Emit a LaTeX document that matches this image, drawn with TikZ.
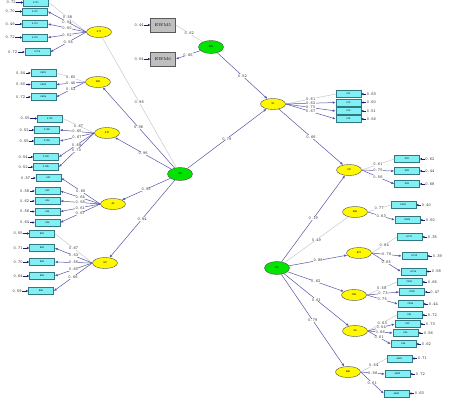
\documentclass[tikz,border=0pt]{standalone}
\usepackage[dvipsnames]{xcolor}
\usepackage{tikz}
\usetikzlibrary{positioning,arrows.meta,shapes.geometric}
\definecolor{obsCyan}{RGB}{128,240,245}
\definecolor{obsLine}{RGB}{50,120,130}
\definecolor{latYellow}{RGB}{255,248,0}
\definecolor{latGreen}{RGB}{0,228,0}
\definecolor{pathBlue}{RGB}{85,85,165}
\definecolor{fixGrey}{RGB}{200,200,205}
\definecolor{errNavy}{RGB}{25,25,110}
\newcommand{\tinyTT}{\fontsize{4.3}{5}\selectfont\ttfamily}

\begin{document}
\begin{tikzpicture}[x=1pt,y=-1pt,
			obsVar/.style={shape=rectangle, draw=obsLine, fill=obsCyan, line width=0.5pt, minimum width=25pt, minimum height=7pt, inner sep=0pt, font=\fontsize{2.6}{3}\selectfont\ttfamily},
			refVar/.style={shape=rectangle, draw=black!65, fill=black!25, line width=0.5pt, minimum width=25pt, minimum height=14pt, inner sep=0pt, font=\fontsize{4}{5}\selectfont},
			latY/.style={shape=ellipse, draw=black!70, fill=latYellow, line width=0.4pt, minimum width=25pt, minimum height=11pt, inner sep=0pt, font=\fontsize{2.8}{3}\selectfont\ttfamily},
			latG/.style={latY, fill=latGreen, minimum height=13pt},
			errLbl/.style={inner sep=0.3pt, font=\tinyTT, text=black!80},
			estLbl/.style={pos=0.5, fill=white, inner sep=0.3pt, font=\tinyTT, text=black!80},
			freePath/.style={draw=pathBlue, line width=0.5pt, -{Latex[length=3pt,width=2.4pt]}},
			fixPath/.style={draw=fixGrey, line width=0.5pt},
			errPath/.style={draw=errNavy, line width=0.9pt, -{Latex[length=2.2pt,width=2.6pt]}}]
\useasboundingbox (0,0) rectangle (474,402);

% second order factors and EDU
\node [latG] (kz) at (180,174) {KZ};
\node [latG] (edu) at (211,47) {EDU};
\node [latG] (ht) at (277,268) {HT};

% first order factors, left
\node [latY] (kjt) at (99,32) {KJT};
\node [latY] (kbu) at (98,82) {KBU};
\node [latY] (kjm) at (107,133) {KJM};
\node [latY] (af) at (113,204) {AF};
\node [latY] (em) at (105,263) {EM};

% factors, right
\node [latY] (si) at (273,104) {SI};
\node [latY] (dm) at (349,170) {DM};
\node [latY] (ese) at (355,212) {ESE};
\node [latY] (hci) at (359,253) {HCI};
\node [latY] (csn) at (354,295) {CSN};
\node [latY] (ss) at (355,331) {SS};
\node [latY] (aho) at (348,372) {AHO};

% KJT
\node [obsVar] (kjtA) at (36,2.5) {KJT1};
\node [obsVar] (kjtB) at (35,11.5) {KJT2};
\node [obsVar] (kjtC) at (35,24) {KJT3};
\node [obsVar] (kjtD) at (35,37.5) {KJT4};
\node [obsVar] (kjtE) at (37.5,52) {KJT5};
\node [errLbl, left=7pt of kjtA] (eKjtA) {0.72};
\node [errLbl, left=7pt of kjtB] (eKjtB) {0.70};
\node [errLbl, left=7pt of kjtC] (eKjtC) {0.49};
\node [errLbl, left=7pt of kjtD] (eKjtD) {0.72};
\node [errLbl, left=7pt of kjtE] (eKjtE) {0.72};
\draw [fixPath] (kjt.west) -- node[estLbl]{0.58} (kjtA.east);
\draw [freePath] (kjt.west) -- node[estLbl]{0.54} (kjtB.east);
\draw [freePath] (kjt.west) -- node[estLbl]{0.50} (kjtC.east);
\draw [freePath] (kjt.west) -- node[estLbl]{0.52} (kjtD.east);
\draw [freePath] (kjt.west) -- node[estLbl]{0.55} (kjtE.east);

% KBU
\node [obsVar] (kbuA) at (43.5,73) {KBU1};
\node [obsVar] (kbuB) at (43.5,84.5) {KBU2};
\node [obsVar] (kbuC) at (43.5,97) {KBU3};
\node [errLbl, left=5pt of kbuA] (eKbuA) {0.54};
\node [errLbl, left=5pt of kbuB] (eKbuB) {0.50};
\node [errLbl, left=5pt of kbuC] (eKbuC) {0.72};
\draw [fixPath] (kbu.west) -- node[estLbl]{0.60} (kbuA.east);
\draw [freePath] (kbu.west) -- node[estLbl]{0.45} (kbuB.east);
\draw [freePath] (kbu.west) -- node[estLbl]{0.52} (kbuC.east);

% KJM
\node [obsVar] (kjmA) at (50,118.5) {KJM1};
\node [obsVar] (kjmB) at (47,130) {KJM2};
\node [obsVar] (kjmC) at (47,141) {KJM3};
\node [obsVar] (kjmD) at (46,157) {KJM4};
\node [obsVar] (kjmE) at (46,167) {KJM5};
\node [errLbl, left=7pt of kjmA] (eKjmA) {0.55};
\node [errLbl, left=5pt of kjmB] (eKjmB) {0.52};
\node [errLbl, left=5pt of kjmC] (eKjmC) {0.55};
\node [errLbl, left=5pt of kjmD] (eKjmD) {0.54};
\node [errLbl, left=5pt of kjmE] (eKjmE) {0.52};
\draw [fixPath] (kjm.west) -- node[estLbl]{0.67} (kjmA.east);
\draw [freePath] (kjm.west) -- node[estLbl]{0.65} (kjmB.east);
\draw [freePath] (kjm.west) -- node[estLbl]{0.67} (kjmC.east);
\draw [freePath] (kjm.west) -- node[estLbl]{0.69} (kjmD.east);
\draw [freePath] (kjm.west) -- node[estLbl]{0.70} (kjmE.east);

% AF
\node [obsVar] (afA) at (48.5,178) {AF1};
\node [obsVar] (afB) at (47.5,191) {AF2};
\node [obsVar] (afC) at (47.5,201) {AF3};
\node [obsVar] (afD) at (47.5,211.5) {AF4};
\node [obsVar] (afE) at (47.5,222.5) {AF5};
\node [errLbl, left=5pt of afA] (eAfA) {0.57};
\node [errLbl, left=5pt of afB] (eAfB) {0.58};
\node [errLbl, left=5pt of afC] (eAfC) {0.62};
\node [errLbl, left=5pt of afD] (eAfD) {0.56};
\node [errLbl, left=5pt of afE] (eAfE) {0.64};
\draw [freePath] (af.west) -- node[estLbl]{0.65} (afA.east);
\draw [freePath] (af.west) -- node[estLbl]{0.64} (afB.east);
\draw [freePath] (af.west) -- node[estLbl]{0.58} (afC.east);
\draw [freePath] (af.west) -- node[estLbl]{0.61} (afD.east);
\draw [freePath] (af.west) -- node[estLbl]{0.67} (afE.east);

% EM
\node [obsVar] (emA) at (42,233.5) {EM1};
\node [obsVar] (emB) at (42,248) {EM2};
\node [obsVar] (emC) at (42,262) {EM3};
\node [obsVar] (emD) at (42,276) {EM4};
\node [obsVar] (emE) at (41,291) {EM5};
\node [errLbl, left=6pt of emA] (eEmA) {0.55};
\node [errLbl, left=6pt of emB] (eEmB) {0.71};
\node [errLbl, left=6pt of emC] (eEmC) {0.70};
\node [errLbl, left=6pt of emD] (eEmD) {0.64};
\node [errLbl, left=6pt of emE] (eEmE) {0.59};
\draw [fixPath] (em.west) -- node[estLbl]{0.67} (emA.east);
\draw [freePath] (em.west) -- node[estLbl]{0.53} (emB.east);
\draw [freePath] (em.west) -- node[estLbl]{0.55} (emC.east);
\draw [freePath] (em.west) -- node[estLbl]{0.60} (emD.east);
\draw [freePath] (em.west) -- node[estLbl]{0.66} (emE.east);

% EDU
\node [refVar] (ewmA) at (163,25) {EWM5};
\node [refVar] (ewmB) at (163,59) {EWM6};
\node [errLbl, left=6pt of ewmA] (eEwmA) {0.44};
\node [errLbl, left=6pt of ewmB] (eEwmB) {0.54};
\draw [fixPath] (edu) -- node[estLbl]{0.62} (ewmA.east);
\draw [freePath] (edu) -- node[estLbl]{0.65} (ewmB.east);

% SI
\node [obsVar] (siA) at (348.5,94) {SI1};
\node [obsVar] (siB) at (348.5,102.5) {SI2};
\node [obsVar] (siC) at (348.5,111) {SI3};
\node [obsVar] (siD) at (348.5,119) {SI4};
\node [errLbl, right=5pt of siA] (eSiA) {0.63};
\node [errLbl, right=5pt of siB] (eSiB) {0.60};
\node [errLbl, right=5pt of siC] (eSiC) {0.51};
\node [errLbl, right=5pt of siD] (eSiD) {0.56};
\draw [fixPath] (si.east) -- node[estLbl]{0.61} (siA.west);
\draw [freePath] (si.east) -- node[estLbl]{0.62} (siB.west);
\draw [freePath] (si.east) -- node[estLbl]{0.70} (siC.west);
\draw [freePath] (si.east) -- node[estLbl]{0.67} (siD.west);

% DM
\node [obsVar] (dmA) at (407,159) {DM1};
\node [obsVar] (dmB) at (407,171) {DM2};
\node [obsVar] (dmC) at (407,184) {DM3};
\node [errLbl, right=5pt of dmA] (eDmA) {0.62};
\node [errLbl, right=5pt of dmB] (eDmB) {0.44};
\node [errLbl, right=5pt of dmC] (eDmC) {0.68};
\draw [fixPath] (dm.east) -- node[estLbl]{0.61} (dmA.west);
\draw [freePath] (dm.east) -- node[estLbl]{0.75} (dmB.west);
\draw [freePath] (dm.east) -- node[estLbl]{0.56} (dmC.west);

% ESE
\node [obsVar] (eseA) at (403.5,205) {ESE1};
\node [obsVar] (eseB) at (407.5,220) {ESE2};
\node [errLbl, right=5pt of eseA] (eEseA) {0.40};
\node [errLbl, right=5pt of eseB] (eEseB) {0.60};
\draw [fixPath] (ese.east) -- node[estLbl]{0.77} (eseA.west);
\draw [freePath] (ese.east) -- node[estLbl]{0.63} (eseB.west);

% HCI
\node [obsVar] (hciA) at (409.5,237) {HCI1};
\node [obsVar] (hciB) at (414.5,256) {HCI2};
\node [obsVar] (hciC) at (413.5,271.5) {HCI3};
\node [errLbl, right=5pt of hciA] (eHciA) {0.35};
\node [errLbl, right=5pt of hciB] (eHciB) {0.39};
\node [errLbl, right=5pt of hciC] (eHciC) {0.58};
\draw [fixPath] (hci.east) -- node[estLbl]{0.84} (hciA.west);
\draw [freePath] (hci.east) -- node[estLbl]{0.76} (hciB.west);
\draw [freePath] (hci.east) -- node[estLbl]{0.65} (hciC.west);

% CSN
\node [obsVar] (csnA) at (409.5,282) {CSN1};
\node [obsVar] (csnB) at (412,292) {CSN2};
\node [obsVar] (csnC) at (410.5,304) {CSN3};
\node [errLbl, right=5pt of csnA] (eCsnA) {0.66};
\node [errLbl, right=5pt of csnB] (eCsnB) {0.47};
\node [errLbl, right=5pt of csnC] (eCsnC) {0.44};
\draw [fixPath] (csn.east) -- node[estLbl]{0.58} (csnA.west);
\draw [freePath] (csn.east) -- node[estLbl]{0.73} (csnB.west);
\draw [freePath] (csn.east) -- node[estLbl]{0.75} (csnC.west);

% SS
\node [obsVar] (ssA) at (409.5,315) {SS1};
\node [obsVar] (ssB) at (407.5,324) {SS2};
\node [obsVar] (ssC) at (405.5,333) {SS3};
\node [obsVar] (ssD) at (403.5,344) {SS4};
\node [errLbl, right=5pt of ssA] (eSsA) {0.72};
\node [errLbl, right=5pt of ssB] (eSsB) {0.73};
\node [errLbl, right=5pt of ssC] (eSsC) {0.56};
\node [errLbl, right=5pt of ssD] (eSsD) {0.62};
\draw [fixPath] (ss.east) -- node[estLbl]{0.63} (ssA.west);
\draw [freePath] (ss.east) -- node[estLbl]{0.54} (ssB.west);
\draw [freePath] (ss.east) -- node[estLbl]{0.66} (ssC.west);
\draw [freePath] (ss.east) -- node[estLbl]{0.61} (ssD.west);

% AHO
\node [obsVar] (ahoA) at (399.5,358.5) {AHO1};
\node [obsVar] (ahoB) at (397.5,374) {AHO2};
\node [obsVar] (ahoC) at (396.5,393.5) {AHO3};
\node [errLbl, right=5pt of ahoA] (eAhoA) {0.71};
\node [errLbl, right=5pt of ahoB] (eAhoB) {0.72};
\node [errLbl, right=5pt of ahoC] (eAhoC) {0.63};
\draw [fixPath] (aho.east) -- node[estLbl]{0.54} (ahoA.west);
\draw [freePath] (aho.east) -- node[estLbl]{0.56} (ahoB.west);
\draw [freePath] (aho.east) -- node[estLbl]{0.61} (ahoC.west);

% error arrows
\foreach \e/\b in {eKjtA/kjtA,eKjtB/kjtB,eKjtC/kjtC,eKjtD/kjtD,eKjtE/kjtE,eKbuA/kbuA,eKbuB/kbuB,eKbuC/kbuC,eKjmA/kjmA,eKjmB/kjmB,eKjmC/kjmC,eKjmD/kjmD,eKjmE/kjmE,eAfA/afA,eAfB/afB,eAfC/afC,eAfD/afD,eAfE/afE,eEmA/emA,eEmB/emB,eEmC/emC,eEmD/emD,eEmE/emE,eEwmA/ewmA,eEwmB/ewmB}
  \draw [errPath] (\e.east) -- (\b.west);
\foreach \e/\b in {eSiA/siA,eSiB/siB,eSiC/siC,eSiD/siD,eDmA/dmA,eDmB/dmB,eDmC/dmC,eEseA/eseA,eEseB/eseB,eHciA/hciA,eHciB/hciB,eHciC/hciC,eCsnA/csnA,eCsnB/csnB,eCsnC/csnC,eSsA/ssA,eSsB/ssB,eSsC/ssC,eSsD/ssD,eAhoA/ahoA,eAhoB/ahoB,eAhoC/ahoC}
  \draw [errPath] (\e.west) -- (\b.east);

% structural paths
\draw [fixPath] (kz) -- node[estLbl]{0.96} (kjt);
\draw [freePath] (kz) -- node[estLbl]{0.96} (kbu);
\draw [freePath] (kz) -- node[estLbl]{0.96} (kjm);
\draw [freePath] (kz) -- node[estLbl]{0.95} (af);
\draw [freePath] (kz) -- node[estLbl]{0.84} (em);
\draw [freePath] (kz) -- node[estLbl]{0.79} (si);
\draw [freePath] (edu) -- node[estLbl]{0.52} (si);
\draw [freePath] (si) -- node[estLbl]{0.66} (dm);
\draw [freePath] (ht) -- node[estLbl]{0.19} (dm);
\draw [fixPath] (ht) -- node[estLbl]{0.49} (ese);
\draw [freePath] (ht) -- node[estLbl]{0.88} (hci);
\draw [freePath] (ht) -- node[estLbl]{0.62} (csn);
\draw [freePath] (ht) -- node[estLbl]{0.61} (ss);
\draw [freePath] (ht) -- node[estLbl]{0.79} (aho);
\end{tikzpicture}
\end{document}
